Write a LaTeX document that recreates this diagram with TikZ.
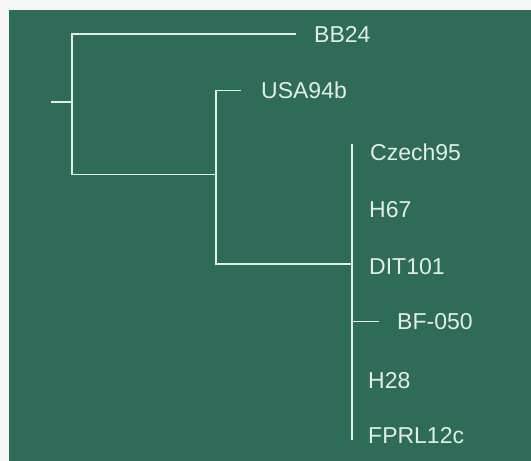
\documentclass[tikz,border=0pt]{standalone}
\usepackage{fontspec}
\setmainfont{Liberation Sans}
\usepackage{tikz}
\usetikzlibrary{positioning,calc}
\definecolor{board}{RGB}{47,107,89}
\definecolor{twig}{RGB}{224,238,230}
\definecolor{paper}{RGB}{246,246,244}

\begin{document}
\begin{tikzpicture}[
    x=1pt,
    y=-1pt,
    every node/.style={font=\fontsize{23}{27}\selectfont},
    branch/.style={
        draw=twig,
        line width=1.9pt
    },
    leaf/.style={
        text=twig,
        inner sep=0pt,
        anchor=west
    }
]

% card and frame
\fill[paper] (0,0) rectangle (531,461);
\fill[board] (9,10) rectangle (531,461);
\useasboundingbox (0,0) rectangle (531,461);

% branch points
\coordinate (root) at (51,101.6);
\coordinate (n1) at (72,101.6);
\coordinate (n2) at (216,174.5);
\coordinate (n3) at (352,264);
\coordinate (n3top) at (352,144);
\coordinate (n3bot) at (352,440);

% labels
\node[leaf] (bb24) at (314,34) {BB24};
\node[leaf] (usa) at (261,90.5) {USA94b};
\node[leaf] (czech) at (370,152.5) {Czech95};
\node[leaf] (h67) at (369,210) {H67};
\node[leaf] (dit) at (369,267) {DIT101};
\node[leaf] (bf) at (397,321.5) {BF-050};
\node[leaf] (h28) at (368,380.5) {H28};
\node[leaf] (fprl) at (368,435.8) {FPRL12c};

% tree
\draw[branch] (root) -- (n1);
\draw[
    branch,
    shorten >=18pt
]
(n1) |- (bb24.west);

\draw[branch] (n1) |- (n2);
\draw[
    branch,
    shorten >=20pt
]
(n2) |- (usa.west);

\draw[branch] (n2) |- (n3);
\draw[branch] (n3top) -- (n3bot);
\draw[
    branch,
    shorten >=18pt
]
(bf.west -| n3) -- (bf.west);

\end{tikzpicture}
\end{document}
